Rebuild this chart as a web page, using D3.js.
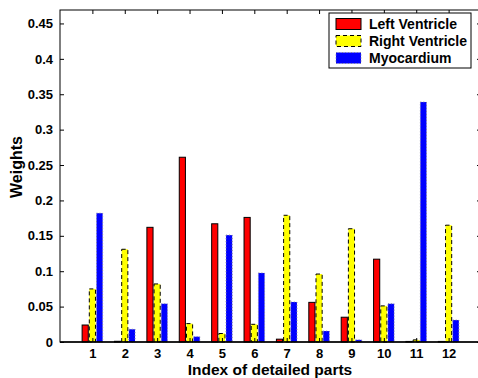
<!DOCTYPE html>
<html>
<head>
<meta charset="utf-8">
<script src="https://cdn.jsdelivr.net/npm/d3@7"></script>
<style>
  body { margin: 0; background: #fff; }
  text { font-family: "Liberation Sans", Arial, sans-serif; font-weight: bold; }
</style>
</head>
<body>
<div id="chart"></div>
<script>
// values
const parts = [1, 2, 3, 4, 5, 6, 7, 8, 9, 10, 11, 12];
const leftVentricle  = [0.024, 0.001, 0.162, 0.261, 0.167, 0.176, 0.004, 0.056, 0.035, 0.117, 0.0008, 0.0008];
const rightVentricle = [0.075, 0.131, 0.082, 0.026, 0.012, 0.025, 0.179, 0.096, 0.160, 0.051, 0.003, 0.165];
const myocardium     = [0.182, 0.018, 0.054, 0.0075, 0.151, 0.0975, 0.0565, 0.0155, 0.003, 0.054, 0.339, 0.031];
const seriesNames = ['Left Ventricle', 'Right Ventricle', 'Myocardium'];
const yTicks = [0, 0.05, 0.1, 0.15, 0.2, 0.25, 0.3, 0.35, 0.4, 0.45];

const series = [
  { name: seriesNames[0], values: leftVentricle,  fill: '#ff0000', stroke: '#000', dash: null },
  { name: seriesNames[1], values: rightVentricle, fill: '#ffff00', stroke: '#000', dash: '4,3' },
  { name: seriesNames[2], values: myocardium,     fill: '#0000ff', stroke: '#8080a0', dash: '1,2' }
];

const W = 478, H = 378;
const m = { left: 60, right: 481, top: 10, bottom: 342 };

const svg = d3.select('#chart').append('svg')
  .attr('width', W)
  .attr('height', H);

const x = d3.scaleLinear().domain([0, 13]).range([m.left, m.right]);
const y = d3.scaleLinear().domain([0, 0.469]).range([m.bottom, m.top]);

const offset = 0.222, bw = 0.19;

// bars
series.forEach((s, i) => {
  svg.append('g').selectAll('rect')
    .data(s.values)
    .enter().append('rect')
    .attr('x', (d, j) => x(parts[j] + (i - 1) * offset - bw / 2))
    .attr('y', d => y(d))
    .attr('width', x(bw) - x(0))
    .attr('height', d => y(0) - y(d))
    .attr('fill', s.fill)
    .attr('stroke', s.stroke)
    .attr('stroke-width', 1)
    .attr('stroke-dasharray', s.dash);
});

// baseline
svg.append('line')
  .attr('x1', m.left).attr('x2', m.right)
  .attr('y1', y(0)).attr('y2', y(0))
  .attr('stroke', '#000').attr('stroke-width', 1.5);

// frame
svg.append('rect')
  .attr('x', m.left).attr('y', m.top)
  .attr('width', m.right - m.left).attr('height', m.bottom - m.top)
  .attr('fill', 'none').attr('stroke', '#000').attr('stroke-width', 1);

// inward ticks on all sides
const tl = 4;
const yAxisL = d3.axisLeft(y).tickValues(yTicks).tickSizeInner(-tl).tickSizeOuter(0).tickPadding(7).tickFormat(d3.format('~g'));
svg.append('g').attr('transform', `translate(${m.left},0)`).call(yAxisL);
const yAxisR = d3.axisRight(y).tickValues(yTicks).tickSizeInner(-tl).tickSizeOuter(0).tickFormat('');
svg.append('g').attr('transform', `translate(${m.right},0)`).call(yAxisR);

const xAxisB = d3.axisBottom(x).tickValues(parts).tickSizeInner(-tl).tickSizeOuter(0).tickPadding(7);
svg.append('g').attr('transform', `translate(0,${m.bottom})`).call(xAxisB);
const xAxisT = d3.axisTop(x).tickValues(parts).tickSizeInner(-tl).tickSizeOuter(0).tickFormat('');
svg.append('g').attr('transform', `translate(0,${m.top})`).call(xAxisT);

svg.selectAll('.domain').remove();
svg.selectAll('.tick line').attr('stroke', '#000');
svg.selectAll('.tick text')
  .attr('fill', '#000')
  .style('font-size', '13px')
  .style('font-family', '"Liberation Sans", Arial, sans-serif')
  .style('font-weight', 'bold');

// axis titles
svg.append('text')
  .attr('x', 270)
  .attr('y', 375)
  .attr('text-anchor', 'middle')
  .style('font-size', '15.5px')
  .text('Index of detailed parts');

svg.append('text')
  .attr('transform', 'translate(22,167) rotate(-90)')
  .attr('text-anchor', 'middle')
  .style('font-size', '16px')
  .text('Weights');

// legend
const lg = svg.append('g').attr('transform', 'translate(329,13)');
lg.append('rect')
  .attr('width', 142).attr('height', 55)
  .attr('fill', '#fff').attr('stroke', '#000').attr('stroke-width', 1);
series.forEach((s, i) => {
  const row = lg.append('g').attr('transform', `translate(0,${11 + i * 17})`);
  row.append('rect')
    .attr('x', 7).attr('y', -5.5)
    .attr('width', 25).attr('height', 11)
    .attr('fill', s.fill)
    .attr('stroke', s.stroke)
    .attr('stroke-dasharray', s.dash);
  row.append('text')
    .attr('x', 40).attr('y', 5)
    .style('font-size', '14px')
    .text(s.name);
});
</script>
</body>
</html>
